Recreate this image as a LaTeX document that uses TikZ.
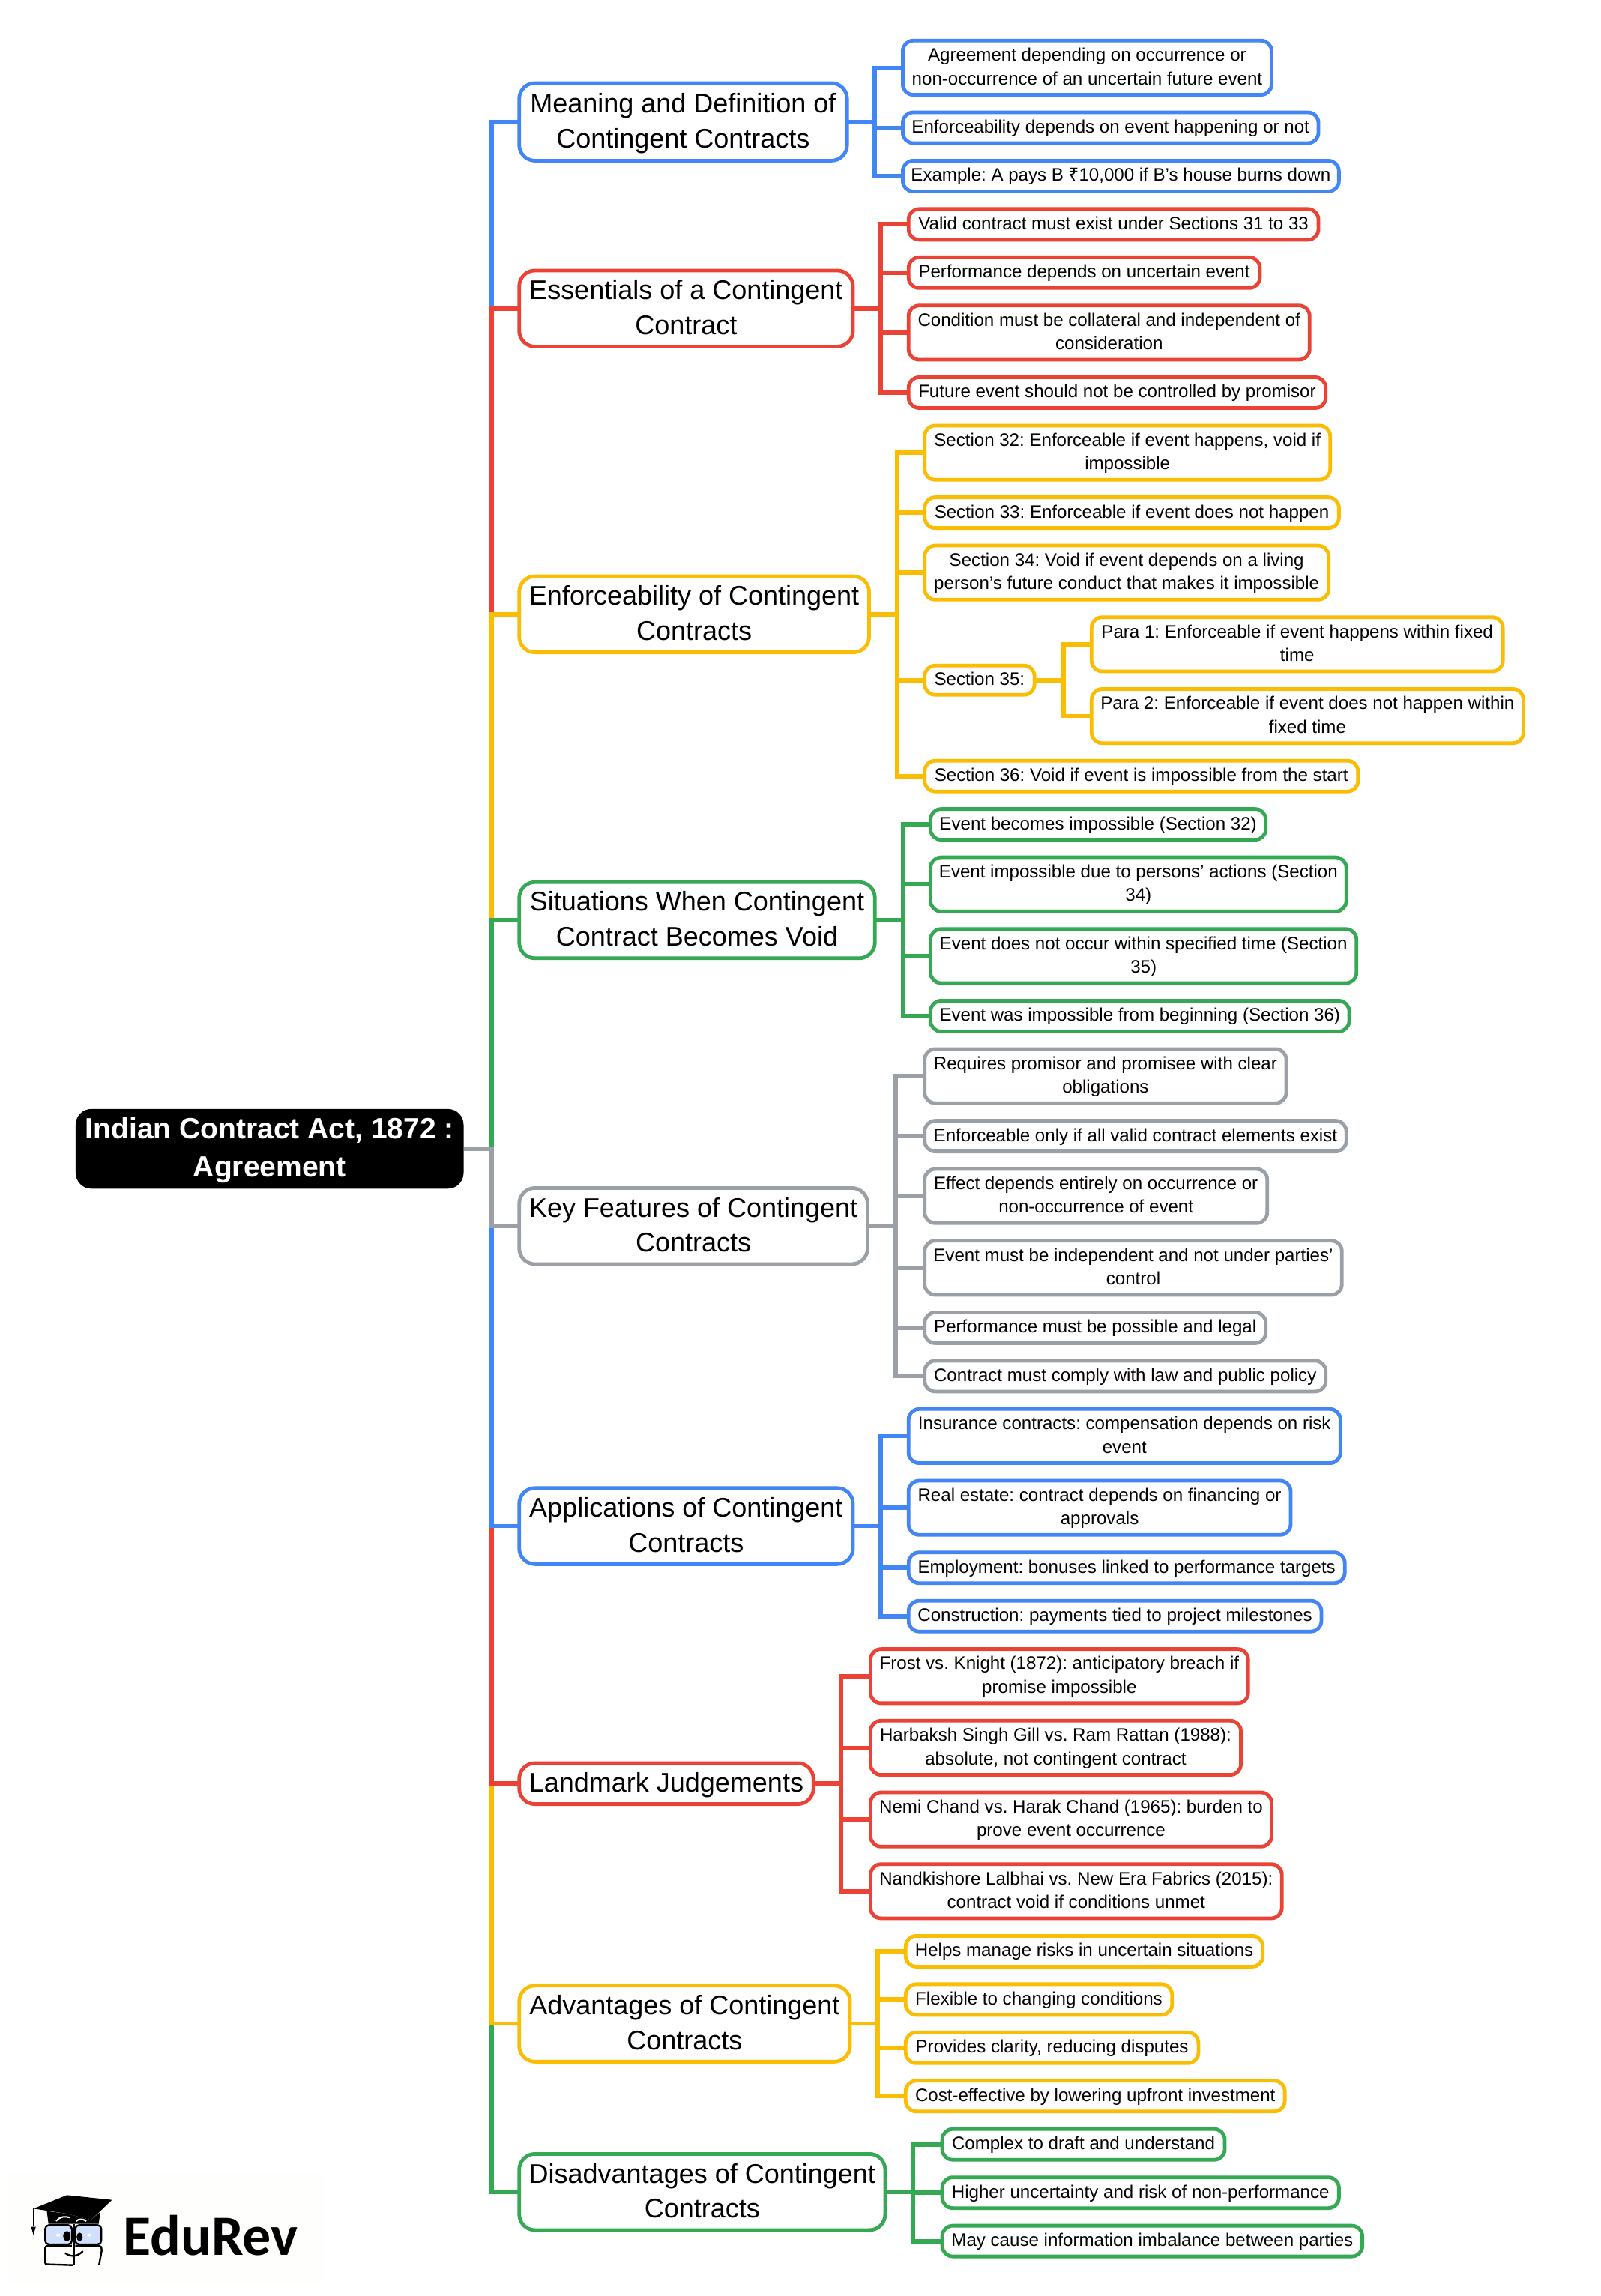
\documentclass[tikz,border=0pt]{standalone}
\usepackage{fontspec}
\setmainfont{Liberation Sans}
\newfontfamily\logofont{Carlito}
\newfontfamily\rupfont{Noto Sans}
\frenchspacing
\definecolor{cblue}{HTML}{4285F4}
\definecolor{cred}{HTML}{EA4335}
\definecolor{cyel}{HTML}{FBBC04}
\definecolor{cgrn}{HTML}{34A853}
\definecolor{cgry}{HTML}{9AA0A6}
\definecolor{logobg}{HTML}{FEFEFC}
\tikzset{
  boxbase/.style={rectangle,fill=white,line width=2.4pt,inner sep=0pt,outer sep=0pt,align=center,text=black},
  mainbox/.style={boxbase,rounded corners=10.5pt,font=\fontsize{18.0}{23.4}\selectfont\def\tstrut{\rule{0pt}{15pt}}},
  leafbox/.style={boxbase,rounded corners=7pt,font=\fontsize{12.05}{15.7}\selectfont\def\tstrut{\rule{0pt}{9.4pt}}},
  rootbox/.style={rectangle,fill=black,rounded corners=10.5pt,inner sep=0pt,outer sep=0pt,align=center,text=white,font=\fontsize{19.5}{25.5}\selectfont\bfseries\def\tstrut{\rule{0pt}{16pt}}},
  conn/.style={draw=#1,line width=2.9pt,line join=miter}
}
\newcommand{\bx}[8]{%
  \pgfmathsetlengthmacro{\bw}{(#6-#5)*0.9765pt}%
  \pgfmathsetlengthmacro{\bh}{(#8-#7)*0.9765pt}%
  \node[#1,draw=#2,minimum width=\bw,minimum height=\bh] (#3) at ({(#5+#6)/2},{(#7+#8)/2}) {\tstrut #4\vphantom{Ag}};}
\begin{document}
\begin{tikzpicture}[x=0.9765pt,y=-0.9765pt]
\useasboundingbox[fill=white] (0,0) rectangle (1093.7,1568.9);
\begin{scope}[shift={(0.7,0.8)}]
% root
\pgfmathsetlengthmacro{\bw}{(316-51)*0.9765pt}
\pgfmathsetlengthmacro{\bh}{(811.5-757)*0.9765pt}
\node[rootbox,minimum width=\bw,minimum height=\bh] (root) at (183.5,784.2) {\tstrut Indian Contract Act, 1872 :\\Agreement\vphantom{Ag}};

% main boxes
\bx{mainbox}{cblue}{m1}{Meaning and Definition of\\Contingent Contracts}{354}{578}{56}{109}
\bx{mainbox}{cred}{m2}{Essentials of a Contingent\\Contract}{354}{582}{184}{236}
\bx{mainbox}{cyel}{m3}{Enforceability of Contingent\\Contracts}{354}{593}{393}{445}
\bx{mainbox}{cgrn}{m4}{Situations When Contingent\\Contract Becomes Void}{354}{597}{602}{654}
\bx{mainbox}{cgry}{m5}{Key Features of Contingent\\Contracts}{354}{592}{811}{863}
\bx{mainbox}{cblue}{m6}{Applications of Contingent\\Contracts}{354}{582}{1016}{1068}
\bx{mainbox}{cred}{m7}{Landmark Judgements}{354}{555}{1204}{1232}
\bx{mainbox}{cyel}{m8}{Advantages of Contingent\\Contracts}{354}{580}{1356}{1408}
\bx{mainbox}{cgrn}{m9}{Disadvantages of Contingent\\Contracts}{354}{604}{1471}{1523}

% leaves: meaning
\bx{leafbox}{cblue}{a1}{Agreement depending on occurrence or\\non-occurrence of an uncertain future event}{616}{868}{27}{64}
\bx{leafbox}{cblue}{a2}{Enforceability depends on event happening or not}{616}{900}{76}{97}
\bx{leafbox}{cblue}{a3}{Example: A pays B {\rupfont ₹}10,000 if B's house burns down}{616}{914}{109}{130}
% essentials
\bx{leafbox}{cred}{b1}{Valid contract must exist under Sections 31 to 33}{620}{900}{142}{163}
\bx{leafbox}{cred}{b2}{Performance depends on uncertain event}{620}{860}{175}{196}
\bx{leafbox}{cred}{b3}{Condition must be collateral and independent of\\consideration}{620}{894}{208}{245}
\bx{leafbox}{cred}{b4}{Future event should not be controlled by promisor}{620}{905}{257}{278}
% enforceability
\bx{leafbox}{cyel}{c1}{Section 32: Enforceable if event happens, void if\\impossible}{631}{908}{290}{327}
\bx{leafbox}{cyel}{c2}{Section 33: Enforceable if event does not happen}{631}{914}{339}{360}
\bx{leafbox}{cyel}{c3}{Section 34: Void if event depends on a living\\person's future conduct that makes it impossible}{631}{907}{372}{409}
\bx{leafbox}{cyel}{c4}{Section 35:}{631}{706}{454}{474}
\bx{leafbox}{cyel}{c5}{Section 36: Void if event is impossible from the start}{631}{927}{519}{540}
\bx{leafbox}{cyel}{c6}{Para 1: Enforceable if event happens within fixed\\time}{745}{1026}{421}{458}
\bx{leafbox}{cyel}{c7}{Para 2: Enforceable if event does not happen within\\fixed time}{745}{1040}{470}{507}
% situations
\bx{leafbox}{cgrn}{d1}{Event becomes impossible (Section 32)}{635}{864}{552}{573}
\bx{leafbox}{cgrn}{d2}{Event impossible due to persons' actions (Section\\34)}{635}{919}{585}{622}
\bx{leafbox}{cgrn}{d3}{Event does not occur within specified time (Section\\35)}{635}{926}{634}{671}
\bx{leafbox}{cgrn}{d4}{Event was impossible from beginning (Section 36)}{635}{921}{683}{704}
% key features
\bx{leafbox}{cgry}{e1}{Requires promisor and promisee with clear\\obligations}{631}{878}{716}{753}
\bx{leafbox}{cgry}{e2}{Enforceable only if all valid contract elements exist}{631}{919}{765}{786}
\bx{leafbox}{cgry}{e3}{Effect depends entirely on occurrence or\\non-occurrence of event}{631}{865}{798}{835}
\bx{leafbox}{cgry}{e4}{Event must be independent and not under parties'\\control}{631}{916}{847}{884}
\bx{leafbox}{cgry}{e5}{Performance must be possible and legal}{631}{864}{896}{917}
\bx{leafbox}{cgry}{e6}{Contract must comply with law and public policy}{631}{905}{929}{950}
% applications
\bx{leafbox}{cblue}{f1}{Insurance contracts: compensation depends on risk\\event}{620}{915}{962}{999}
\bx{leafbox}{cblue}{f2}{Real estate: contract depends on financing or\\approvals}{620}{881}{1011}{1048}
\bx{leafbox}{cblue}{f3}{Employment: bonuses linked to performance targets}{620}{918}{1060}{1081}
\bx{leafbox}{cblue}{f4}{Construction: payments tied to project milestones}{620}{902}{1093}{1114}
% landmark
\bx{leafbox}{cred}{g1}{Frost vs. Knight (1872): anticipatory breach if\\promise impossible}{594}{852}{1126}{1163}
\bx{leafbox}{cred}{g2}{Harbaksh Singh Gill vs. Ram Rattan (1988):\\absolute, not contingent contract}{594}{847}{1175}{1212}
\bx{leafbox}{cred}{g3}{Nemi Chand vs. Harak Chand (1965): burden to\\prove event occurrence}{594}{868}{1224}{1261}
\bx{leafbox}{cred}{g4}{Nandkishore Lalbhai vs. New Era Fabrics (2015):\\contract void if conditions unmet}{594}{875}{1273}{1310}
% advantages
\bx{leafbox}{cyel}{h1}{Helps manage risks in uncertain situations}{618}{862}{1322}{1343}
\bx{leafbox}{cyel}{h2}{Flexible to changing conditions}{618}{800}{1355}{1376}
\bx{leafbox}{cyel}{h3}{Provides clarity, reducing disputes}{618}{818}{1388}{1409}
\bx{leafbox}{cyel}{h4}{Cost-effective by lowering upfront investment}{618}{877}{1421}{1442}
% disadvantages
\bx{leafbox}{cgrn}{i1}{Complex to draft and understand}{643}{836}{1454}{1475}
\bx{leafbox}{cgrn}{i2}{Higher uncertainty and risk of non-performance}{643}{914}{1487}{1508}
\bx{leafbox}{cgrn}{i3}{May cause information imbalance between parties}{643}{930}{1520}{1541}

% trunk connectors
\draw[conn=cblue] (root.east) -- ++(19,0) |- (m1.west);
\draw[conn=cred] (root.east) -- ++(19,0) |- (m2.west);
\draw[conn=cyel] (root.east) -- ++(19,0) |- (m3.west);
\draw[conn=cgrn] (root.east) -- ++(19,0) |- (m4.west);
\draw[conn=cgrn] (root.east) -- ++(19,0) |- (m9.west);
\draw[conn=cyel] (root.east) -- ++(19,0) |- (m8.west);
\draw[conn=cred] (root.east) -- ++(19,0) |- (m7.west);
\draw[conn=cblue] (root.east) -- ++(19,0) |- (m6.west);
\draw[conn=cgry] (root.east) -- ++(19,0) |- (m5.west);

% branch connectors
\foreach \n in {a1,a2,a3} \draw[conn=cblue] (m1.east) -- ++(19,0) |- (\n.west);
\foreach \n in {b1,b2,b3,b4} \draw[conn=cred] (m2.east) -- ++(19,0) |- (\n.west);
\foreach \n in {c1,c2,c3,c4,c5} \draw[conn=cyel] (m3.east) -- ++(19,0) |- (\n.west);
\foreach \n in {c6,c7} \draw[conn=cyel] (c4.east) -- ++(20,0) |- (\n.west);
\foreach \n in {d1,d2,d3,d4} \draw[conn=cgrn] (m4.east) -- ++(19,0) |- (\n.west);
\foreach \n in {e1,e2,e3,e4,e5,e6} \draw[conn=cgry] (m5.east) -- ++(19,0) |- (\n.west);
\foreach \n in {f1,f2,f3,f4} \draw[conn=cblue] (m6.east) -- ++(19,0) |- (\n.west);
\foreach \n in {g1,g2,g3,g4} \draw[conn=cred] (m7.east) -- ++(19,0) |- (\n.west);
\foreach \n in {h1,h2,h3,h4} \draw[conn=cyel] (m8.east) -- ++(19,0) |- (\n.west);
\foreach \n in {i1,i2,i3} \draw[conn=cgrn] (m9.east) -- ++(19,0) |- (\n.west);
\end{scope}

% logo: zoom coordinates of the reference crop
\begin{scope}[shift={(0,1433.7)},x=0.2232pt,y=-0.1667pt]
\fill[logobg] (22,300) rectangle (975,740);
\fill[black] (100,442) -- (200,388) -- (335,407) -- (272,487) -- (200,462) -- cycle;
\fill[black] (140,452) -- (200,462) -- (272,487) -- (300,455) -- (295,503) -- (145,503) -- cycle;
\draw[white,line width=1pt] (168,492) .. controls (180,472) and (195,472) .. (210,478);
\draw[white,line width=1pt] (228,492) .. controls (235,482) and (248,482) .. (258,492);
\draw[black,line width=0.7pt] (100,442) -- (100,510);
\fill[black] (93,515) -- (107,515) -- (100,547) -- cycle;
\draw[black,fill=cblue!25!white,line width=1.2pt,rounded corners=2.5pt] (135,508) rectangle (215,585);
\draw[black,fill=cblue!25!white,line width=1.2pt,rounded corners=2.5pt] (225,508) rectangle (303,585);
\fill[black] (200,552) ellipse [x radius=11,y radius=20];
\fill[black] (238,555) ellipse [x radius=9,y radius=17];
\fill[white] (174,548) circle [radius=6];
\fill[white] (266,548) circle [radius=6];
\draw[black,line width=1.2pt] (215,590) -- (150,590) .. controls (135,592) .. (135,610) -- (135,650) .. controls (135,665) .. (150,665) -- (217,668);
\draw[black,line width=1.2pt] (225,590) -- (290,590) .. controls (303,592) .. (304,610) -- (296,668);
\draw[black,line width=1.4pt] (221,505) -- (221,670);
\draw[black,line width=1.2pt] (195,620) .. controls (215,640) and (235,630) .. (248,612);
\end{scope}
\node[anchor=base west,inner sep=0pt,font=\logofont\bfseries\fontsize{38}{38}\selectfont,text=black] (logo) at (84,1541) {EduRev};
\end{tikzpicture}
\end{document}
